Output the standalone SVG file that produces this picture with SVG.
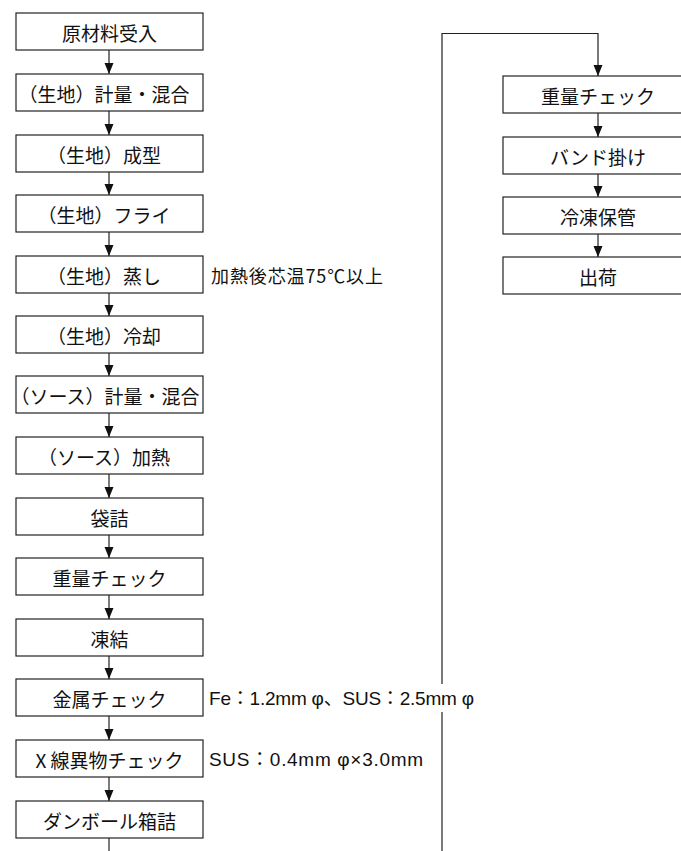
<svg xmlns="http://www.w3.org/2000/svg" width="681" height="851" viewBox="0 0 681 851">
<defs>
<marker id="ah" markerWidth="11" markerHeight="10" refX="11" refY="5" orient="auto" markerUnits="userSpaceOnUse" viewBox="0 0 11 10">
<path d="M0,0.5 L11,5 L0,9.5 Z" fill="#111"/>
</marker>
<style>
.box{fill:#fff;stroke:#222;stroke-width:1.2}
.t{font-family:"Noto Sans CJK JP","Noto Sans CJK SC",sans-serif;font-size:19px;fill:#111;text-anchor:middle;dominant-baseline:central}
.a{font-family:"Liberation Sans","Noto Sans CJK JP",sans-serif;font-size:19px;fill:#111;dominant-baseline:central}
.c{fill:none;stroke:#222;stroke-width:1.2}
</style>
</defs>
<rect width="681" height="851" fill="#fff"/>
<g id="connectors">
<line class="c" x1="109" y1="50" x2="109" y2="74" marker-end="url(#ah)"/>
<line class="c" x1="109" y1="111" x2="109" y2="135" marker-end="url(#ah)"/>
<line class="c" x1="109" y1="172" x2="109" y2="195" marker-end="url(#ah)"/>
<line class="c" x1="109" y1="232" x2="109" y2="256" marker-end="url(#ah)"/>
<line class="c" x1="109" y1="293" x2="109" y2="316" marker-end="url(#ah)"/>
<line class="c" x1="109" y1="353" x2="109" y2="376" marker-end="url(#ah)"/>
<line class="c" x1="109" y1="413" x2="109" y2="437" marker-end="url(#ah)"/>
<line class="c" x1="109" y1="474" x2="109" y2="498" marker-end="url(#ah)"/>
<line class="c" x1="109" y1="535" x2="109" y2="558" marker-end="url(#ah)"/>
<line class="c" x1="109" y1="595" x2="109" y2="619" marker-end="url(#ah)"/>
<line class="c" x1="109" y1="656" x2="109" y2="679" marker-end="url(#ah)"/>
<line class="c" x1="109" y1="716" x2="109" y2="740" marker-end="url(#ah)"/>
<line class="c" x1="109" y1="777" x2="109" y2="801" marker-end="url(#ah)"/>
<line class="c" x1="109" y1="838" x2="109" y2="851"/>
<line class="c" x1="442" y1="851" x2="442" y2="712"/>
<path class="c" d="M442,684 V33.5 H598 V76" marker-end="url(#ah)"/>
<line class="c" x1="598" y1="113" x2="598" y2="137" marker-end="url(#ah)"/>
<line class="c" x1="598" y1="174" x2="598" y2="197" marker-end="url(#ah)"/>
<line class="c" x1="598" y1="234" x2="598" y2="257" marker-end="url(#ah)"/>
</g>
<g id="n1"><rect class="box" x="16" y="13" width="187" height="37"/><text class="t" x="109.5" y="32">原材料受入</text></g>
<g id="n2"><rect class="box" x="16" y="74" width="187" height="37"/><text class="t" x="104" y="93">（生地）計量・混合</text></g>
<g id="n3"><rect class="box" x="16" y="135" width="187" height="37"/><text class="t" x="104" y="154">（生地）成型</text></g>
<g id="n4"><rect class="box" x="16" y="195" width="187" height="37"/><text class="t" x="104" y="214">（生地）フライ</text></g>
<g id="n5"><rect class="box" x="16" y="256" width="187" height="37"/><text class="t" x="104" y="275">（生地）蒸し</text></g>
<g id="n6"><rect class="box" x="16" y="316" width="187" height="37"/><text class="t" x="104" y="335">（生地）冷却</text></g>
<g id="n7"><rect class="box" x="16" y="376" width="187" height="37"/><text class="t" x="105" y="395">（ソース）計量・混合</text></g>
<g id="n8"><rect class="box" x="16" y="437" width="187" height="37"/><text class="t" x="104" y="456">（ソース）加熱</text></g>
<g id="n9"><rect class="box" x="16" y="498" width="187" height="37"/><text class="t" x="109.5" y="517">袋詰</text></g>
<g id="n10"><rect class="box" x="16" y="558" width="187" height="37"/><text class="t" x="109.5" y="577">重量チェック</text></g>
<g id="n11"><rect class="box" x="16" y="619" width="187" height="37"/><text class="t" x="109.5" y="638">凍結</text></g>
<g id="n12"><rect class="box" x="16" y="679" width="187" height="37"/><text class="t" x="109.5" y="698">金属チェック</text></g>
<g id="n13"><rect class="box" x="16" y="740" width="187" height="37"/><text class="t" x="109.5" y="759">X 線異物チェック</text></g>
<g id="n14"><rect class="box" x="16" y="801" width="187" height="37"/><text class="t" x="109.5" y="820">ダンボール箱詰</text></g>
<g id="n15"><rect class="box" x="503" y="76" width="192" height="37"/><text class="t" x="598" y="95">重量チェック</text></g>
<g id="n16"><rect class="box" x="503" y="137" width="192" height="37"/><text class="t" x="598" y="156">バンド掛け</text></g>
<g id="n17"><rect class="box" x="503" y="197" width="192" height="37"/><text class="t" x="598" y="216">冷凍保管</text></g>
<g id="n18"><rect class="box" x="503" y="257" width="192" height="37"/><text class="t" x="598" y="276">出荷</text></g>
<g id="notes">
<text class="a" x="211" y="275" textLength="172" lengthAdjust="spacing" style="font-family:'Noto Sans CJK JP',sans-serif;font-size:18px">加熱後芯温75℃以上</text>
<text class="a" x="209" y="698" textLength="265" lengthAdjust="spacing">Fe：1.2mm φ、SUS：2.5mm φ</text>
<text class="a" x="209" y="759" textLength="214" lengthAdjust="spacing">SUS：0.4mm φ×3.0mm</text>
</g>
</svg>
